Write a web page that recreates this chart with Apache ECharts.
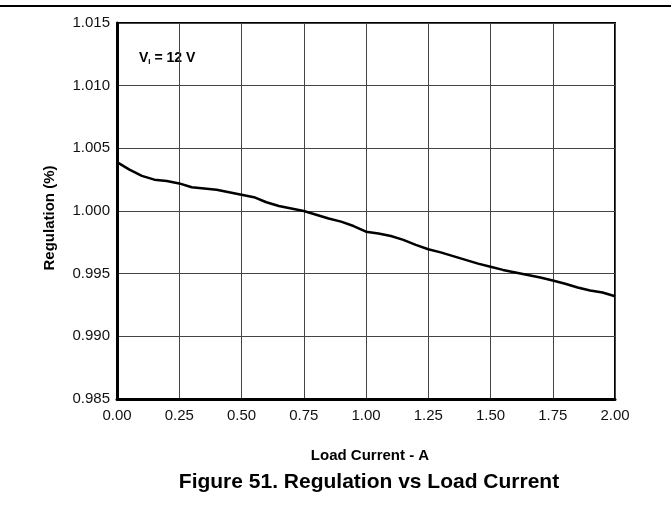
<!DOCTYPE html>
<html>
<head>
<meta charset="utf-8">
<script src="https://cdn.jsdelivr.net/npm/echarts@6/dist/echarts.min.js"></script>
<style>
  html, body { margin: 0; padding: 0; background: #fff; }
  #chart { width: 671px; height: 505px; }
</style>
</head>
<body>
<div id="chart"></div>
<script>
// load current (A)
var current = [0.00, 0.05, 0.10, 0.15, 0.20, 0.25, 0.30, 0.35, 0.40, 0.45, 0.50, 0.55, 0.60, 0.65,
  0.70, 0.75, 0.80, 0.85, 0.90, 0.95, 1.00, 1.05, 1.10, 1.15, 1.20, 1.25, 1.30, 1.35, 1.40,
  1.45, 1.50, 1.55, 1.60, 1.65, 1.70, 1.75, 1.80, 1.85, 1.90, 1.95, 2.00];
// regulation (%)
var regulation = [1.0039, 1.0033, 1.0028, 1.0025, 1.0024, 1.0022, 1.0019, 1.0018, 1.0017, 1.0015, 1.0013,
  1.0011, 1.0007, 1.0004, 1.0002, 1.0000, 0.9997, 0.9994, 0.99915, 0.9988, 0.99835, 0.9982, 0.9980,
  0.9977, 0.9973, 0.99695, 0.9967, 0.9964, 0.9961, 0.9958, 0.99555, 0.9953, 0.9951, 0.9949, 0.9947,
  0.99445, 0.9942, 0.9939, 0.99365, 0.9935, 0.9932];
var yTicks = [0.985, 0.990, 0.995, 1.000, 1.005, 1.010, 1.015];

var chart = echarts.init(document.getElementById('chart'));
var font = 'Liberation Sans, Arial, sans-serif';

chart.setOption({
  animation: false,
  title: {
    text: 'Figure 51. Regulation vs Load Current',
    left: 364, top: 467, textAlign: 'center',
    textStyle: { fontFamily: font, fontSize: 21, fontWeight: 'bold', color: '#000' }
  },
  grid: {
    left: 117, top: 23, right: 56, bottom: 106,
    show: true, borderColor: '#000', borderWidth: 2, backgroundColor: 'transparent'
  },
  xAxis: {
    type: 'value', min: 0, max: 2, interval: 0.25,
    name: 'Load Current - A', nameLocation: 'middle', nameGap: 49,
    nameTextStyle: { fontFamily: font, fontSize: 15, fontWeight: 'bold', color: '#000', padding: [0, 0, 0, 8] },
    axisLine: { show: true, lineStyle: { color: '#000', width: 3 } },
    axisTick: { show: false },
    axisLabel: { fontFamily: font, fontSize: 15, color: '#111', margin: 9,
      formatter: function (v) { return v.toFixed(2); } },
    splitLine: { show: true, lineStyle: { color: '#444', width: 1 } }
  },
  yAxis: {
    type: 'value', min: 0.985, max: 1.015, interval: 0.005,
    axisLine: { show: true, lineStyle: { color: '#000', width: 3 } },
    axisTick: { show: false },
    axisLabel: { fontFamily: font, fontSize: 15, color: '#111', margin: 7,
      formatter: function (v) { return v.toFixed(3); } },
    splitLine: { show: true, lineStyle: { color: '#444', width: 1 } }
  },
  graphic: [
    { type: 'line', shape: { x1: 0, y1: 6, x2: 671, y2: 6 }, style: { stroke: '#000', lineWidth: 2 } },
    {
      type: 'text', x: 50, y: 218, rotation: Math.PI / 2,
      style: {
        text: 'Regulation (%)', align: 'center', verticalAlign: 'middle',
        font: 'bold 15px Liberation Sans, Arial, sans-serif', fill: '#000'
      }
    },
    {
      type: 'text', left: 139, top: 51,
      style: {
        text: '{b|V}{s|I}{b| = 12 V}',
        rich: {
          b: { fontFamily: font, fontSize: 14, fontWeight: 'bold', fill: '#000' },
          s: { fontFamily: font, fontSize: 8, fontWeight: 'bold', fill: '#000', verticalAlign: 'bottom', padding: [7, 0, 0, 0] }
        }
      }
    }
  ],
  series: [{
    type: 'line',
    data: current.map(function (x, i) { return [x, regulation[i]]; }),
    showSymbol: false,
    smooth: false,
    lineStyle: { color: '#000', width: 2.5 }
  }]
});
</script>
</body>
</html>
